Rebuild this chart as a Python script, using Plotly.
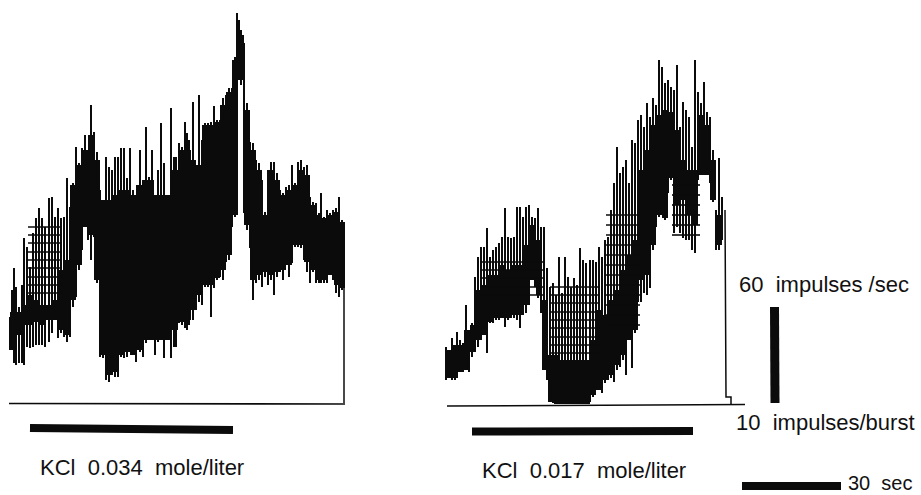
import plotly.graph_objects as go

# Left record (KCl 0.034): trace extremes
left_x = [10,12,14,16,19,22,24,27,30,33,36,39,42,45,49,52,55,58,61,64,67,70,73,76,79,82,85,88,91,94,97,100,103,106,109,112,115,118,121,124,127,130,133,136,140,143,146,149,152,155,158,161,164,167,171,174,176,179,182,185,187,190,193,196,199,202,205,208,211,214,217,220,223,226,229,232,235,237,239,241,244,247,250,253,256,259,262,265,268,271,274,277,280,283,286,289,292,295,298,301,304,307,310,313,316,319,321,324,327,330,333,336,339,342]
left_top = [317,290,268,287,307,285,238,247,267,233,218,208,218,227,198,197,217,208,218,217,178,207,183,147,163,148,135,150,105,132,152,190,213,157,167,170,157,157,148,148,178,148,190,197,150,180,127,177,150,197,170,123,163,197,108,157,157,143,147,122,133,150,102,167,95,140,123,123,122,106,120,120,98,95,88,88,57,13,20,30,43,103,142,143,160,163,180,212,170,162,162,173,190,193,187,185,165,183,162,160,167,165,197,202,203,213,193,217,210,213,210,208,197,220]
left_bottom = [350,350,363,365,363,363,365,347,348,347,345,345,345,347,342,333,320,338,333,337,342,337,307,297,270,250,227,240,260,237,283,357,358,380,382,375,377,377,357,358,357,348,355,362,352,357,343,340,340,355,342,340,358,333,358,347,347,323,325,328,330,320,320,310,302,305,287,287,317,288,280,277,280,262,260,227,217,75,75,85,213,230,248,300,283,280,287,277,285,280,295,277,272,280,263,277,263,247,247,248,260,272,283,272,283,283,283,283,283,275,280,293,297,290]
left_core_x = [13,19,25,31,37,43,49,55,61,67,73,79,85,91,97,103,109,115,121,127,133,139,145,151,157,163,169,175,181,187,193,199,205,211,217,223,229,235,241,247,253,259,265,271,277,283,289,295,301,307,313,319,325,331,337,342]
left_core_top = [312,312,305,295,300,305,305,300,270,260,185,165,150,135,160,200,200,195,190,190,195,185,180,180,195,195,195,170,150,140,160,165,125,125,122,105,92,60,35,110,150,170,215,170,180,195,190,185,170,175,205,215,218,215,212,222]
left_core_bottom = [340,335,325,325,322,325,320,320,330,335,300,265,227,235,280,355,375,372,355,352,355,350,340,340,340,340,340,330,322,325,310,295,285,285,278,270,255,215,80,225,280,275,272,275,272,270,265,245,245,262,270,280,280,275,285,288]

# Right record (KCl 0.017)
right_x = [446,449,452,455,457,460,463,466,469,472,475,478,481,484,487,490,493,496,499,502,505,508,511,514,517,520,523,526,529,532,535,538,541,544,547,550,553,556,559,562,565,568,571,574,577,580,583,586,590,593,596,599,602,605,608,611,614,617,620,623,626,629,632,635,638,641,644,647,650,653,656,659,662,665,668,671,674,677,680,683,686,689,692,695,698,701,704,707,710,713,716,719,722]
right_top = [347,367,338,353,332,340,343,305,337,323,277,257,247,247,228,257,250,247,243,237,208,237,238,237,207,207,217,207,205,217,218,208,227,227,268,287,283,295,257,293,257,277,287,278,285,248,260,263,260,260,262,247,257,240,237,210,183,147,173,167,160,183,140,143,120,115,127,103,117,98,105,60,67,83,80,87,90,65,127,102,110,117,147,60,92,103,82,112,117,150,210,158,197]
right_bottom = [380,378,380,380,377,372,368,370,372,357,350,347,340,330,353,323,323,320,320,317,327,320,317,318,320,328,313,313,297,277,287,298,313,360,380,400,403,403,403,403,403,403,403,403,403,403,403,403,402,397,390,390,393,383,380,378,382,370,367,360,375,340,368,333,302,302,293,295,288,250,227,217,212,220,193,180,233,227,233,238,240,240,250,253,180,175,175,175,183,202,250,250,240]
right_core_x = [449,455,461,467,473,479,485,491,497,503,509,515,521,527,533,539,545,551,557,563,569,575,581,587,593,599,605,611,617,623,629,635,641,647,653,659,665,671,677,683,689,695,701,707,713,719]
right_core_top = [350,345,345,330,325,290,285,275,275,265,270,265,265,245,225,240,300,355,355,360,360,360,360,360,340,310,315,300,290,270,255,240,170,150,125,115,110,112,130,160,170,170,115,125,160,215]
right_core_bottom = [378,378,372,370,352,340,335,322,318,318,318,315,315,305,280,295,370,402,404,404,404,404,404,404,395,390,380,375,365,355,340,330,280,275,245,215,218,178,205,200,215,225,175,175,200,245]

# Horizontal grating of the hatched passages: (first x, last x, levels)
hatch_spans = [
    (28, 62, [227,235,243,252,260,268,277,285,293]),
    (480, 543, [262,270,278,287,295]),
    (550, 600, [287,295,303,312,320,328,337,345,353]),
    (606, 640, [215,225,235,245,255,265,275,285,295,305,315,325]),
    (672, 700, [185,195,205,215,225,235]),
]

# Drops to baseline, baselines, stimulus and scale bars
left_drop_x, left_drop_y = [344,344], [227,403]
right_drop_x, right_drop_y = [725,726,731,731], [210,397,397,405]
left_base_x, left_base_y = [9,345], [403.5,404]
right_base_x, right_base_y = [447,745], [406,404.5]
left_stim_x, left_stim_y = [30,233], [428,430]
right_stim_x, right_stim_y = [472,693], [431.5,431]
rate_bar_x, rate_bar_y = [774.5,775], [307,403]
time_bar_x, time_bar_y = [742,841], [486,486]

labels = ["60\u00a0 impulses /sec","10\u00a0 impulses/burst","30\u00a0 sec","KCl\u00a0 0.034\u00a0 mole/liter","KCl\u00a0 0.017\u00a0 mole/liter"]
label_x = [737,734,846,38,480]
label_y = [284,422,483,467,470]
label_size = [22,22,20,22,22]

INK = "#0b0b0b"
fig = go.Figure()

def bars(x, top, bottom, width):
    fig.add_bar(x=x, base=top, y=[b - t for t, b in zip(top, bottom)], width=width,
                marker=dict(color=INK, line_width=0), showlegend=False, hoverinfo="skip")

bars(left_x, left_top, left_bottom, 2.4)
bars(left_core_x, left_core_top, left_core_bottom, 6)
bars(right_x, right_top, right_bottom, 2.4)
bars(right_core_x, right_core_top, right_core_bottom, 6)

for x0, x1, levels in hatch_spans:
    hx, hy = [], []
    for lv in levels:
        hx += [x0, x1, None]
        hy += [lv, lv, None]
    fig.add_scatter(x=hx, y=hy, mode="lines", line=dict(color=INK, width=1.6),
                    showlegend=False, hoverinfo="skip")

for x, y, w in [(left_drop_x, left_drop_y, 1.5), (right_drop_x, right_drop_y, 1.5),
                (left_base_x, left_base_y, 1.6), (right_base_x, right_base_y, 1.6),
                (left_stim_x, left_stim_y, 8), (right_stim_x, right_stim_y, 8),
                (rate_bar_x, rate_bar_y, 9), (time_bar_x, time_bar_y, 8)]:
    fig.add_scatter(x=x, y=y, mode="lines", line=dict(color=INK, width=w),
                    showlegend=False, hoverinfo="skip")

for t, x, y, s in zip(labels, label_x, label_y, label_size):
    fig.add_annotation(x=x, y=y, text=t, showarrow=False, xanchor="left", yanchor="middle",
                       font=dict(family="Liberation Sans", size=s, color="#111111"))

fig.update_layout(width=921, height=495, margin=dict(l=0, r=0, t=0, b=0),
                  paper_bgcolor="white", plot_bgcolor="white", barmode="overlay", bargap=0,
                  xaxis=dict(range=[0,921], visible=False, fixedrange=True),
                  yaxis=dict(range=[495,0], visible=False, fixedrange=True))
fig.write_html("out.html", config={"displayModeBar": False},
               post_script="document.body.style.margin='0';document.documentElement.style.overflow='hidden';")
